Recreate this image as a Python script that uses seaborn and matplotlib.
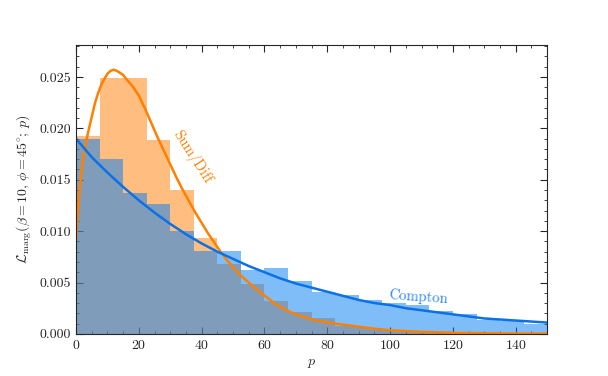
import numpy as np
import matplotlib
matplotlib.use("Agg")
import matplotlib.pyplot as plt
import seaborn as sns
from matplotlib.ticker import MultipleLocator

# histogram bins (width 7.5)
bin_edges = [0, 7.5, 15, 22.5, 30, 37.5, 45, 52.5, 60, 67.5, 75,
             82.5, 90, 97.5, 105, 112.5, 120, 127.5, 135, 142.5, 150]
sumdiff_hist = [0.0193, 0.0249, 0.0249, 0.0189, 0.0140, 0.0093, 0.0068, 0.0049,
                0.0032, 0.0021, 0.0015, 0.0008, 0.0006, 0.0004, 0.0003, 0.0002,
                0.0001, 0.0001, 0.00005, 0.00003]
compton_hist = [0.0190, 0.0170, 0.0137, 0.0126, 0.0100, 0.0081, 0.0081, 0.0062,
                0.0064, 0.0051, 0.0041, 0.0038, 0.0033, 0.0030, 0.0028, 0.0022,
                0.0019, 0.0014, 0.0013, 0.0010]

# curves
sumdiff_p = [0, 1, 2, 3, 4, 5, 6, 7, 8, 9, 10, 11, 12, 13, 14, 15, 16, 18, 20,
             22, 24, 26, 28, 30, 32, 34, 36, 38, 40, 42, 44, 46, 48, 50, 52, 55,
             58, 61, 64, 67, 70, 75, 80, 85, 90, 95, 100, 110, 120, 130, 140, 150]
sumdiff_l = [0.0093, 0.0135, 0.0166, 0.0184, 0.0198, 0.0211, 0.0224, 0.0234,
             0.0242, 0.0248, 0.0253, 0.0256, 0.0257, 0.0256, 0.0254, 0.0252,
             0.0248, 0.0241, 0.0232, 0.0219, 0.0205, 0.0191, 0.0178, 0.0165,
             0.0152, 0.0140, 0.0129, 0.0118, 0.0108, 0.0098, 0.0089, 0.0080,
             0.0072, 0.0065, 0.0058, 0.0050, 0.0042, 0.0035, 0.0028, 0.0023,
             0.0019, 0.0014, 0.0011, 0.0009, 0.0007, 0.0005, 0.00035, 0.0002,
             0.0001, 0.00006, 0.00003, 0.00002]
compton_p = [0, 5, 10, 15, 20, 25, 30, 35, 40, 45, 50, 55, 60, 65, 70, 75, 80,
             85, 90, 95, 100, 105, 110, 115, 120, 125, 130, 135, 140, 145, 150]
compton_l = [0.0190, 0.0172, 0.0157, 0.0143, 0.0130, 0.0118, 0.0107, 0.0097,
             0.0088, 0.0080, 0.0073, 0.0066, 0.0060, 0.0054, 0.0049, 0.0045,
             0.0041, 0.0037, 0.0033, 0.0030, 0.0028, 0.0025, 0.0023, 0.0021,
             0.0019, 0.0017, 0.0015, 0.0014, 0.0013, 0.0012, 0.0011]

orange = '#ff7f00'
blue = '#007df5'
blue_line = '#0a72e6'

sns.set_style('ticks')
plt.rcParams['font.family'] = 'serif'
plt.rcParams['font.serif'] = ['cmr10', 'DejaVu Serif']
plt.rcParams['mathtext.fontset'] = 'cm'
plt.rcParams['axes.formatter.use_mathtext'] = True
plt.rcParams['axes.unicode_minus'] = False

fig, ax = plt.subplots(figsize=(6.08, 3.76), dpi=100)
fig.subplots_adjust(left=0.125, right=0.9, bottom=0.112, top=0.88)

centers = [(a + b) / 2 for a, b in zip(bin_edges[:-1], bin_edges[1:])]

# bars, orange first then blue on top
sns.histplot(x=centers, weights=sumdiff_hist, bins=bin_edges, color=orange,
             alpha=0.5, linewidth=0, ax=ax)
sns.histplot(x=centers, weights=compton_hist, bins=bin_edges, color=blue,
             alpha=0.5, linewidth=0, ax=ax)

# smooth curves
sns.lineplot(x=sumdiff_p, y=sumdiff_l, color=orange, linewidth=1.8, ax=ax)
sns.lineplot(x=compton_p, y=compton_l, color=blue_line, linewidth=1.8, ax=ax)

ax.text(37, 0.0172, 'Sum/Diff', color=orange, rotation=-57, fontsize=10.5,
        ha='center', va='center')
ax.text(109, 0.0036, 'Compton', color='#2a86ee', rotation=-4, fontsize=10.5,
        ha='center', va='center')

ax.set_xlim(0, 150)
ax.set_ylim(0, 0.0281)
ax.xaxis.set_major_locator(MultipleLocator(20))
ax.xaxis.set_minor_locator(MultipleLocator(5))
ax.yaxis.set_major_locator(MultipleLocator(0.005))
ax.yaxis.set_minor_locator(MultipleLocator(0.001))
ax.yaxis.set_major_formatter(matplotlib.ticker.FormatStrFormatter('%.3f'))
ax.tick_params(which='both', direction='in', top=True, right=True)
ax.tick_params(which='major', length=5)
ax.tick_params(which='minor', length=2.5)

ax.set_xlabel(r'$p$')
ax.set_ylabel(r'$\mathcal{L}_{\rm marg}(\beta=10,\,\phi=45^{\circ};\,p)$')

fig.savefig('out.png', dpi=100)
